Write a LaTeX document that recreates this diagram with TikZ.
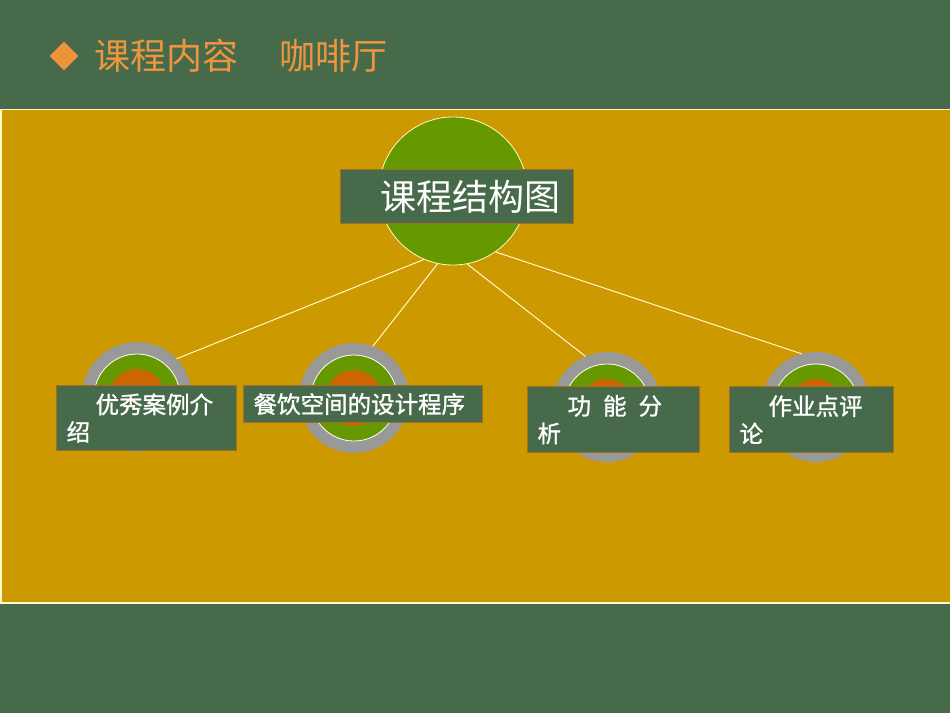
\documentclass[tikz,border=0pt]{standalone}
\usepackage{fontspec}
\newfontfamily\cjk{Noto Sans CJK SC}
\newfontfamily\cjkbold[FakeBold=1.2]{Noto Sans CJK SC}
\usetikzlibrary{shapes.geometric}

\definecolor{slate}{RGB}{71,106,75}
\definecolor{mustard}{RGB}{204,153,0}
\definecolor{leaf}{RGB}{102,153,0}
\definecolor{rust}{RGB}{204,102,0}
\definecolor{stone}{RGB}{153,153,153}
\definecolor{cream}{RGB}{255,250,200}
\definecolor{tan}{RGB}{163,110,30}
\definecolor{peach}{RGB}{236,150,62}

\tikzset{
  ring/.style={circle, fill=stone, minimum size=110pt, inner sep=0, outer sep=0},
  disc/.style={circle, fill=leaf, draw=white, line width=0.8pt, minimum size=86pt, inner sep=0},
  core/.style={circle, fill=rust, minimum size=56pt, inner sep=0},
  tag/.style={draw=tan, line width=1.2pt, fill=slate, text=white, anchor=north west,
    inner xsep=10pt, inner ysep=0pt, align=left, font=\cjkbold\fontsize{23.5}{27.5}\selectfont},
  link/.style={draw=cream, line width=1pt}
}

\begin{document}
\begin{tikzpicture}[x=1pt, y=-1pt]
		\useasboundingbox (0,0) rectangle (950,713);
		\fill[slate] (0,0) rectangle (950,713);
		\draw[cream, line width=1.5pt, fill=mustard] (0.75,109.5) rectangle (952,603);

		% title
		\node[diamond, fill=peach!90!orange, minimum size=29pt, inner sep=0] (mark) at (64,56) {};
		\node[anchor=west, inner sep=0, text=peach, font=\cjk\fontsize{36}{40}\selectfont] (title) at (94,56) {课程内容\hspace{41pt}咖啡厅};

		% main circle
		\node[disc, draw=cream, minimum size=148pt] (top) at (453,191) {};

		% small circles
		\foreach \n/\px/\py in {1/137/397, 2/354/398, 3/607/407, 4/816/407}{
			\node[ring] (ring\n) at (\px,\py) {};
			\node[disc] (disc\n) at (ring\n) {};
			\node[core] (core\n) at (ring\n) {};
		}

		\draw[link] (top.247) -- (ring1.44);
		\draw[link] (top.258) -- (ring2.70);
		\draw[link] (top.281) -- (ring3.113);
		\draw[link] (top.305) -- (ring4.105);

		% labels
		\node[tag, inner xsep=8pt, text width=217pt, minimum height=54pt, font=\cjk\fontsize{36}{40}\selectfont] (head) at (340,169) {\hspace{32pt}课程结构图};
		\node[tag, text width=160pt, minimum height=65pt] (case) at (56,385) {\hspace{29pt}优秀案例介\\绍};
		\node[tag, text width=219pt, minimum height=37pt] (step) at (243,385) {餐饮空间的设计程序};
		\node[tag, text width=152pt, minimum height=66pt] (func) at (527,386) {\hspace{30pt}功\hspace{12pt}能\hspace{12pt}分\\析};
		\node[tag, text width=144pt, minimum height=66pt] (review) at (729,386) {\hspace{29pt}作业点评\\论};
	\end{tikzpicture}
\end{document}
